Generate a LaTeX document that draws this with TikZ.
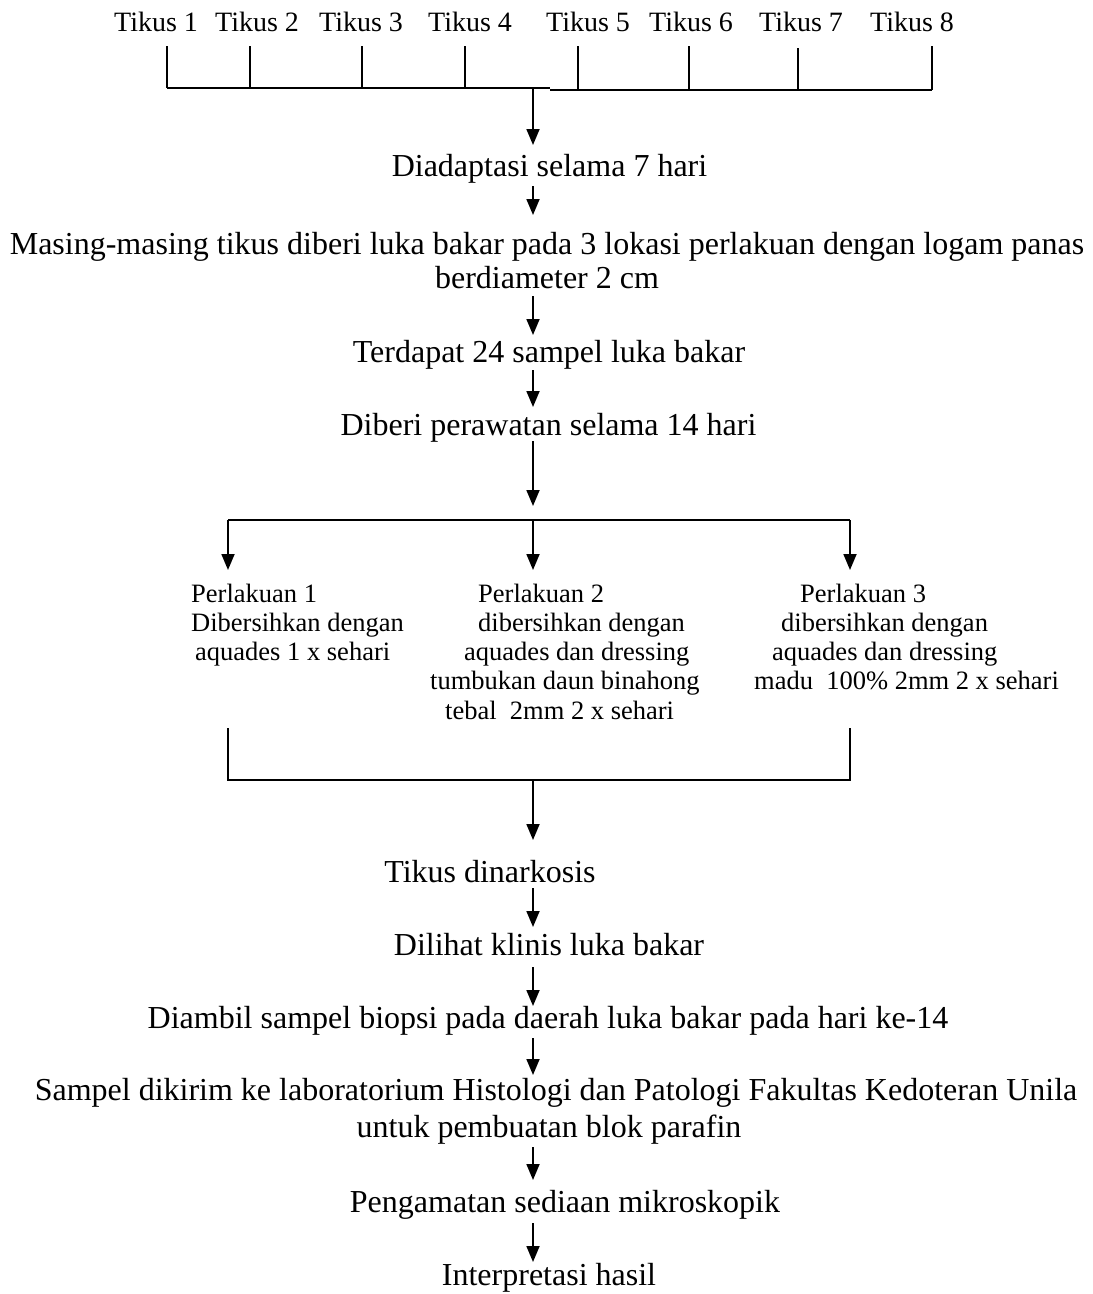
\documentclass[tikz,border=0pt]{standalone}
\usepackage{fontspec}
\setmainfont{Liberation Serif}
\usetikzlibrary{arrows.meta,calc}
\begin{document}
\begin{tikzpicture}[x=1pt,y=-1pt,
  steptxt/.style={inner sep=0pt,anchor=base,font=\fontsize{32}{34}\selectfont,align=center},
  bottxt/.style={inner sep=0pt,anchor=base,font=\fontsize{32}{37}\selectfont,align=center},
  tikus/.style={inner sep=0pt,anchor=base west,font=\fontsize{28}{30}\selectfont},
  treat/.style={inner sep=0pt,anchor=base west,font=\fontsize{26.5}{29.3}\selectfont,align=left},
  arr/.style={line width=1.8pt,-{Triangle[width=13pt,length=16pt]}},
  ln/.style={line width=1.8pt},
  tickln/.style={line width=1.3pt}]
\useasboundingbox (0,0) rectangle (1093,1294);

% rats
\node[tikus] (t1) at (114,31) {Tikus 1};
\node[tikus] (t2) at (215,31) {Tikus 2};
\node[tikus] (t3) at (319,31) {Tikus 3};
\node[tikus] (t4) at (428,31) {Tikus 4};
\node[tikus] (t5) at (546,31) {Tikus 5};
\node[tikus] (t6) at (649,31) {Tikus 6};
\node[tikus] (t7) at (759,31) {Tikus 7};
\node[tikus] (t8) at (870,31) {Tikus 8};

\coordinate (hl) at (533,88);
\coordinate (hr) at (550,90);
\coordinate (k1) at (167,46);
\coordinate (k2) at (250,46);
\coordinate (k3) at (362,46);
\coordinate (k4) at (465,46);
\coordinate (k5) at (578,46);
\coordinate (k6) at (689,46);
\coordinate (k7) at (798,48);
\coordinate (k8) at (932,46);
\foreach \k in {k1,k2,k3,k4}
  \draw[tickln] (\k) -- (\k |- hl);
\foreach \k in {k5,k6,k7,k8}
  \draw[tickln] (\k) -- (\k |- hr);
\draw[tickln] (k1 |- hl) -- (hr |- hl);
\draw[tickln] (hr) -- (k8 |- hr);

% upper steps
\node[steptxt] (n1) at (549.5,176) {Diadaptasi selama 7 hari};
\node[steptxt] (n2) at (547,288) {Masing-masing tikus diberi luka bakar pada 3 lokasi perlakuan dengan logam panas\\berdiameter 2 cm};
\node[steptxt] (n3) at (549,362) {Terdapat 24 sampel luka bakar};
\node[steptxt] (n4) at (548.5,435) {Diberi perawatan selama 14 hari};

\draw[arr] (hl) -- ($(n1.base -| hl)+(0,-31)$);
\draw[arr] ($(n1.base -| hl)+(0,10)$) -- ($(n2.base -| hl)+(0,-73)$);
\draw[arr] ($(n2.base -| hl)+(0,8)$) -- ($(n3.base -| hl)+(0,-27)$);
\draw[arr] ($(n3.base -| hl)+(0,8)$) -- ($(n4.base -| hl)+(0,-28)$);

% branching
\coordinate (br) at (533,520);
\coordinate (bl) at (228,520);
\coordinate (brr) at (850,520);
\draw[arr,shorten >=14pt] ($(n4.base -| hl)+(0,6)$) -- (br);
\draw[ln] (bl) -- (brr);

\node[treat] (p1) at (191,660.6) {Perlakuan 1\\Dibersihkan dengan\\\hspace*{4pt}aquades 1 x sehari};
\node[treat] (p2) at (430,719.2) {\hspace*{48pt}Perlakuan 2\\\hspace*{48pt}dibersihkan dengan\\\hspace*{34pt}aquades dan dressing\\tumbukan daun binahong\\\hspace*{15pt}tebal\ \ 2mm 2 x sehari};
\node[treat] (p3) at (754,689.9) {\hspace*{46pt}Perlakuan 3\\\hspace*{27pt}dibersihkan dengan\\\hspace*{18pt}aquades dan dressing\\madu\ \ 100\% 2mm 2 x sehari};

\draw[arr] (bl) -- ($(p1.base -| bl)+(0,-90.6)$);
\draw[arr] (br) -- ($(p2.base -| br)+(0,-149.2)$);
\draw[arr] (brr) -- ($(p3.base -| brr)+(0,-119.9)$);

% joining bracket
\coordinate (cl) at (228,780);
\coordinate (cr) at (850,780);
\coordinate (cm) at (533,780);
\draw[ln] ($(p1.base -| cl)+(0,67.4)$) -- (cl) -- (cr) -- ($(p3.base -| cr)+(0,38.1)$);

% lower steps
\node[bottxt] (m1) at (490,882) {Tikus dinarkosis};
\node[bottxt] (m2) at (549,955) {Dilihat klinis luka bakar};
\node[bottxt] (m3) at (548,1028) {Diambil sampel biopsi pada daerah luka bakar pada hari ke-14};
\node[bottxt] (m4) at (556,1137) {Sampel dikirim ke laboratorium Histologi dan Patologi Fakultas Kedoteran Unila\\\hspace*{-14pt}untuk pembuatan blok parafin};
\node[bottxt] (m5) at (565,1212) {Pengamatan sediaan mikroskopik};
\node[bottxt] (m6) at (549,1285) {Interpretasi hasil};

\draw[arr] (cm) -- ($(m1.base -| cm)+(0,-42)$);
\draw[arr] ($(m1.base -| cm)+(0,6)$) -- ($(m2.base -| cm)+(0,-28)$);
\draw[arr] ($(m2.base -| cm)+(0,12)$) -- ($(m3.base -| cm)+(0,-22)$);
\draw[arr] ($(m3.base -| cm)+(0,10)$) -- ($(m4.base -| cm)+(0,-62)$);
\draw[arr] ($(m4.base -| cm)+(0,10)$) -- ($(m5.base -| cm)+(0,-32)$);
\draw[arr] ($(m5.base -| cm)+(0,11)$) -- ($(m6.base -| cm)+(0,-23)$);
\end{tikzpicture}
\end{document}
